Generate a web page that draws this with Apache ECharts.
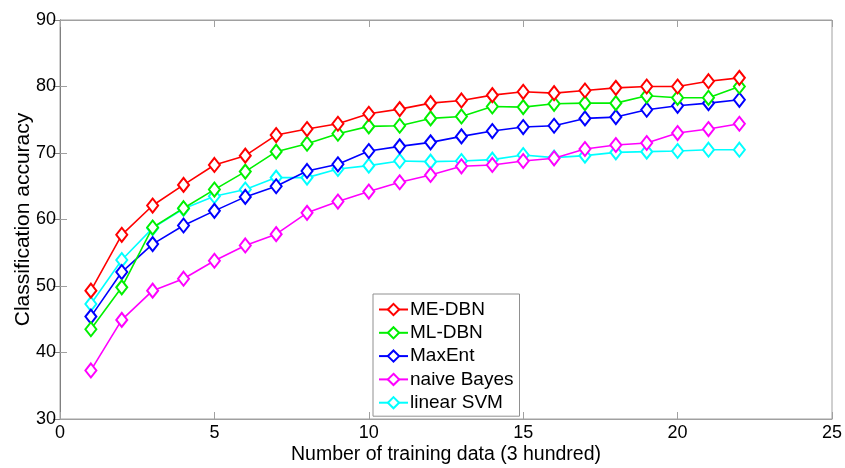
<!DOCTYPE html>
<html>
<head>
<meta charset="utf-8">
<script src="https://cdn.jsdelivr.net/npm/echarts@6/dist/echarts.min.js"></script>
<style>html,body{margin:0;padding:0;background:#fff;}#c{width:845px;height:468px;}</style>
</head>
<body>
<div id="c"></div>
<script>
const xValues = [1,2,3,4,5,6,7,8,9,10,11,12,13,14,15,16,17,18,19,20,21,22];
const seriesNames = ['ME-DBN','ML-DBN','MaxEnt','naive Bayes','linear SVM'];
const meDbn = [49.3,57.7,62.1,65.2,68.2,69.6,72.7,73.6,74.4,75.9,76.6,77.5,77.9,78.7,79.2,79.0,79.4,79.8,80.0,80.0,80.8,81.3];
const mlDbn = [43.5,49.8,58.8,61.7,64.5,67.2,70.2,71.4,72.9,74.0,74.1,75.2,75.5,77.0,76.9,77.4,77.5,77.5,78.6,78.3,78.3,80.0];
const maxEnt = [45.4,52.1,56.3,59.1,61.3,63.4,65.0,67.3,68.3,70.3,71.0,71.6,72.5,73.3,73.9,74.1,75.2,75.4,76.5,77.1,77.5,78.0];
const naiveBayes = [37.3,44.9,49.3,51.1,53.8,56.1,57.8,61.0,62.7,64.2,65.6,66.7,68.0,68.2,68.8,69.2,70.6,71.2,71.5,73.0,73.6,74.4];
const linearSvm = [47.3,53.9,58.7,61.6,63.5,64.5,66.3,66.3,67.6,68.1,68.8,68.7,68.8,69.0,69.7,69.3,69.6,70.1,70.2,70.3,70.5,70.5];
const seriesColors = ['#ff0000','#00f000','#0000ff','#ff00ff','#00ffff'];
const allValues = [meDbn, mlDbn, maxEnt, naiveBayes, linearSvm];

const FONT = 'Liberation Sans, Arial, sans-serif';
const axisColor = '#a0a0a0';

const chart = echarts.init(document.getElementById('c'), null, {renderer:'canvas'});
const series = seriesNames.map((n,i)=>({
  name: n,
  type: 'line',
  data: xValues.map((x,j)=>[x, allValues[i][j]]),
  symbol: 'emptyDiamond',
  symbolSize: [11,14],
  showAllSymbol: true,
  lineStyle: {color: seriesColors[i], width: 1.6},
  itemStyle: {color: seriesColors[i], borderWidth: 1.6},
  animation: false,
  z: 10 - i
}));

const baseAxisLabel = {color:'#000', fontFamily: FONT, fontSize: 18};
chart.setOption({
  animation: false,
  backgroundColor: '#fff',
  grid: {left: 60, right: 13, top: 20, bottom: 49, show: true, borderColor: axisColor, borderWidth: 1, containLabel: false, outerBoundsMode: 'none'},
  legend: {
    data: seriesNames,
    orient: 'vertical',
    left: 373, top: 294,
    width: 146,
    backgroundColor: '#fff',
    borderColor: '#909090', borderWidth: 1,
    padding: [6, 6, 4, 5],
    itemWidth: 29, itemHeight: 14, itemGap: 4.3,
    textStyle: {fontFamily: FONT, fontSize: 19, color: '#000', padding:[0,0,0,-3], lineHeight: 18},
    z: 20
  },
  xAxis: [{
    type: 'value', min: 0, max: 25, interval: 5, position: 'bottom',
    name: 'Number of training data (3 hundred)', nameLocation: 'middle', nameGap: 26,
    nameMoveOverlap: false,
    nameTextStyle: {fontFamily: FONT, fontSize: 19.5, color: '#000'},
    axisLine: {show: true, lineStyle: {color: axisColor}},
    axisTick: {show: true, inside: true, length: 7, lineStyle: {color: axisColor}},
    axisLabel: Object.assign({margin: 5}, baseAxisLabel),
    splitLine: {show: false}
  },{
    type: 'value', min: 0, max: 25, interval: 5, position: 'top',
    axisLine: {show: true, lineStyle: {color: axisColor}},
    axisTick: {show: true, inside: true, length: 7, lineStyle: {color: axisColor}},
    axisLabel: {show: false}, splitLine: {show: false}
  }],
  yAxis: [{
    type: 'value', min: 30, max: 90, interval: 10, position: 'left',
    name: 'Classification accuracy', nameLocation: 'middle', nameGap: 26, nameRotate: 90,
    nameMoveOverlap: false,
    nameTextStyle: {fontFamily: FONT, fontSize: 21, color: '#000'},
    axisLine: {show: true, lineStyle: {color: axisColor}},
    axisTick: {show: true, inside: true, length: 7, lineStyle: {color: axisColor}},
    axisLabel: Object.assign({margin: 4}, baseAxisLabel),
    splitLine: {show: false}
  },{
    type: 'value', min: 30, max: 90, interval: 10, position: 'right',
    axisLine: {show: true, lineStyle: {color: '#808080'}},
    axisTick: {show: true, inside: true, length: 7, lineStyle: {color: '#808080'}},
    axisLabel: {show: false}, splitLine: {show: false}
  }],
  series: series
});
</script>
</body>
</html>
